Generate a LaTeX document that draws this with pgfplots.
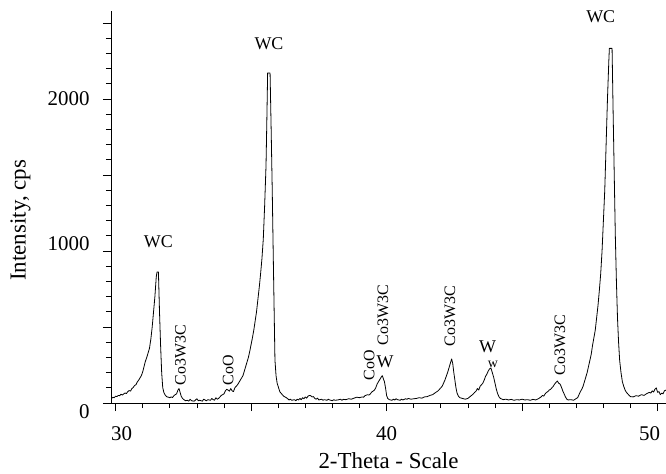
\documentclass[border=0pt]{standalone}
\usepackage{fontspec}
\setmainfont{Liberation Serif}
\usepackage{pgfplots}
\pgfplotsset{compat=1.18}

% diffractogram (2-theta in deg, intensity in cps)
\tikzset{
  peak label/.style={font=\fontsize{18}{18}\selectfont, inner sep=0pt},
  phase label/.style={font=\fontsize{16}{16}\selectfont, rotate=90, inner sep=0pt},
}

\begin{document}
\begin{tikzpicture}
\begin{axis}[
  scale only axis,
  width=555bp, height=392bp,
  xmin=29.83, xmax=50.31,
  ymin=0, ymax=2579,
  axis x line=bottom, axis y line=left,
  axis line style={-, line width=0.8bp},
  tick align=outside,
  major tick length=8bp, minor tick length=5bp,
  every tick/.style={black, line width=0.8bp},
  xtick={30,35,...,50},
  xticklabels={{\hspace*{12bp}30},,40,,{50\hspace*{16bp}}},
  minor x tick num=4,
  ytick={0,500,...,2500},
  yticklabels={{\raisebox{-9bp}[\height][0pt]{0}},,{\raisebox{7bp}[\height][\depth]{1000}},,2000,},
  minor y tick num=4,
  ticklabel style={font=\fontsize{21}{21}\selectfont},
  /pgf/number format/assume math mode=true,
  xticklabel style={yshift=-12bp},
  yticklabel style={xshift=-10bp},
  xlabel={2-Theta - Scale},
  ylabel={Intensity, cps},
  label style={font=\fontsize{23}{23}\selectfont},
  xlabel style={at={(axis description cs:0.5,0)}, anchor=center, yshift=-58bp},
  ylabel style={at={(axis description cs:-0.163,0.466)}, anchor=center},
  clip=false,
]
\addplot[black, line width=0.8bp, line join=round] coordinates {
(29.85,30) (29.9,38) (29.95,35) (30.0,45) (30.05,42) (30.1,50) (30.15,48)
(30.2,58) (30.25,52) (30.3,60) (30.35,66) (30.4,62) (30.45,75) (30.5,82)
(30.55,78) (30.6,95) (30.65,102) (30.7,115) (30.75,120) (30.8,138) (30.85,150)
(30.9,165) (30.95,180) (31.0,205) (31.05,240) (31.1,275) (31.15,300) (31.2,330)
(31.25,360) (31.3,420) (31.35,500) (31.4,600) (31.45,700) (31.5,830)
(31.53,862) (31.58,862) (31.62,600) (31.66,380) (31.70,200) (31.74,100)
(31.78,70) (31.82,55) (31.88,42) (31.95,38) (32.0,35) (32.05,40) (32.1,36)
(32.15,48) (32.2,55) (32.25,60) (32.3,85) (32.34,95) (32.38,70) (32.42,45)
(32.47,30) (32.52,22) (32.58,15) (32.65,18) (32.7,12) (32.75,25) (32.8,15)
(32.9,12) (32.95,20) (33.0,28) (33.05,15) (33.1,18) (33.2,12) (33.25,25)
(33.3,20) (33.35,14) (33.4,22) (33.5,18) (33.55,30) (33.6,22) (33.65,18)
(33.7,35) (33.75,25) (33.8,30) (33.85,40) (33.9,50) (33.95,55) (34.0,60)
(34.05,80) (34.1,90) (34.15,85) (34.2,78) (34.25,95) (34.3,80) (34.35,75)
(34.4,100) (34.45,110) (34.5,120) (34.55,135) (34.6,150) (34.65,165)
(34.7,180) (34.75,210) (34.8,240) (34.85,270) (34.9,300) (34.95,340)
(35.0,385) (35.05,430) (35.1,480) (35.15,540) (35.2,600) (35.25,680)
(35.3,760) (35.35,850) (35.4,950) (35.45,1080) (35.5,1300) (35.55,1560)
(35.58,1850) (35.61,2171) (35.70,2171) (35.74,1800) (35.78,1400) (35.82,940)
(35.86,500) (35.88,283) (35.92,180) (35.96,131) (36.06,74) (36.15,55)
(36.2,45) (36.3,35) (36.35,28) (36.4,20) (36.45,25) (36.5,18) (36.6,22)
(36.65,15) (36.7,25) (36.75,20) (36.8,30) (36.85,22) (36.9,35) (36.95,28)
(37.0,40) (37.05,32) (37.1,45) (37.15,50) (37.2,48) (37.25,40) (37.3,42)
(37.35,30) (37.4,25) (37.45,32) (37.5,20) (37.6,25) (37.65,18) (37.7,22)
(37.8,18) (37.85,25) (37.9,20) (38.0,15) (38.05,22) (38.1,18) (38.2,20)
(38.3,25) (38.35,18) (38.4,24) (38.5,22) (38.6,28) (38.7,25) (38.8,32)
(38.9,38) (39.0,35) (39.1,40) (39.15,38) (39.2,48) (39.3,55) (39.35,52)
(39.4,60) (39.45,72) (39.5,78) (39.55,85) (39.6,100) (39.65,125) (39.7,140)
(39.75,155) (39.8,170) (39.84,180) (39.88,160) (39.92,140) (39.96,100)
(40.0,50) (40.04,30) (40.1,22) (40.2,18) (40.25,25) (40.3,20) (40.35,28)
(40.4,22) (40.5,18) (40.55,25) (40.6,20) (40.7,28) (40.75,24) (40.8,30)
(40.9,25) (41.0,28) (41.1,30) (41.2,35) (41.3,32) (41.4,40) (41.5,42)
(41.6,50) (41.7,55) (41.8,68) (41.9,80) (42.0,100) (42.05,110) (42.1,130)
(42.15,150) (42.2,175) (42.25,200) (42.3,230) (42.35,260) (42.4,290)
(42.44,260) (42.48,200) (42.52,150) (42.56,100) (42.6,65) (42.65,45)
(42.7,35) (42.8,30) (42.9,25) (43.0,30) (43.05,38) (43.1,45) (43.15,52)
(43.2,60) (43.25,70) (43.3,78) (43.35,95) (43.4,85) (43.45,110) (43.5,120)
(43.55,130) (43.6,150) (43.65,175) (43.7,190) (43.75,210) (43.8,225)
(43.85,230) (43.9,200) (43.95,170) (44.0,130) (44.05,90) (44.1,60)
(44.15,40) (44.2,30) (44.3,22) (44.4,25) (44.5,20) (44.6,24) (44.7,18)
(44.8,22) (44.9,20) (45.0,25) (45.1,20) (45.2,22) (45.3,18) (45.4,24)
(45.5,20) (45.6,28) (45.7,40) (45.75,50) (45.8,45) (45.85,60) (45.9,70)
(45.95,75) (46.0,85) (46.05,90) (46.1,100) (46.15,110) (46.2,125)
(46.25,135) (46.3,145) (46.35,130) (46.4,125) (46.45,105) (46.5,80)
(46.55,60) (46.6,40) (46.65,25) (46.7,20) (46.8,22) (46.9,18) (47.0,30)
(47.05,35) (47.1,55) (47.15,75) (47.2,90) (47.25,110) (47.3,140)
(47.35,170) (47.4,200) (47.45,240) (47.5,280) (47.55,320) (47.6,380)
(47.65,430) (47.7,480) (47.75,560) (47.8,640) (47.85,740) (47.9,850)
(47.95,1000) (48.0,1200) (48.05,1400) (48.1,1700) (48.15,2000) (48.2,2250)
(48.22,2333) (48.32,2333) (48.36,1900) (48.4,1500) (48.44,1100) (48.48,800)
(48.52,560) (48.56,400) (48.6,280) (48.65,200) (48.7,140) (48.75,110)
(48.8,85) (48.85,70) (48.9,60) (48.95,50) (49.0,42) (49.1,40) (49.2,48)
(49.3,45) (49.4,55) (49.5,50) (49.6,62) (49.7,70) (49.75,65) (49.8,80)
(49.85,72) (49.9,90) (49.95,100) (50.0,70) (50.05,75) (50.1,55) (50.15,65)
(50.2,60) (50.25,80) (50.31,85)
};
% phase labels
\node[peak label] at (axis cs:31.58,1059) {WC};
\node[peak label] at (axis cs:35.66,2362) {WC};
\node[peak label] at (axis cs:47.90,2540) {WC};
\node[phase label] at (axis cs:32.39,316) {Co3W3C};
\node[phase label] at (axis cs:34.15,217) {CoO};
\node[phase label] at (axis cs:39.36,250) {CoO};
\node[phase label] at (axis cs:39.87,579) {Co3W3C};
\node[peak label] at (axis cs:39.94,272) {W};
\node[phase label] at (axis cs:42.34,572) {Co3W3C};
\node[peak label] at (axis cs:43.73,368) {W};
\node[peak label, font=\fontsize{14}{14}\selectfont] at (axis cs:43.92,252) {w};
\node[phase label] at (axis cs:46.40,382) {Co3W3C};
\end{axis}
\pgfresetboundingbox
\useasboundingbox ([xshift=-111bp,yshift=-71bp]current axis.south west)
  rectangle ([yshift=11bp]current axis.north east);
\end{tikzpicture}
\end{document}
